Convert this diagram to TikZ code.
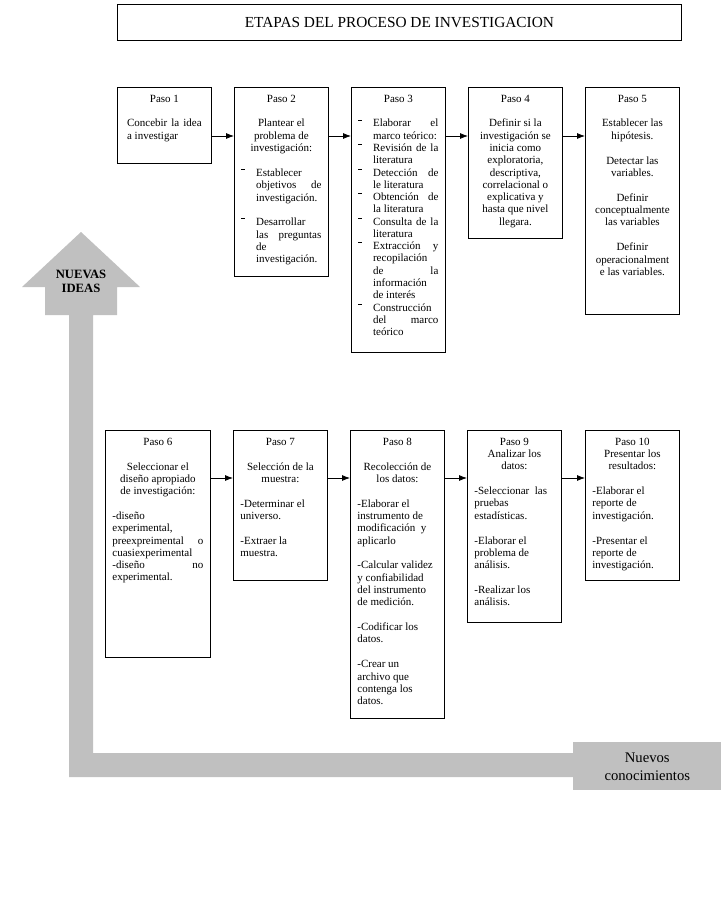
\documentclass[tikz,border=0pt]{standalone}
\usepackage{fontspec}
\setmainfont{Liberation Serif}
\usetikzlibrary{arrows.meta}

\definecolor{flecha}{HTML}{C0C0C0}
\newcommand{\gap}{\par\vspace{9.5pt}}
\newcommand{\cen}[1]{{\centering #1\par}}
\newcommand{\itm}[1]{\par\noindent\hangindent=11pt\hangafter=1\makebox[11pt][l]{\rule[5pt]{3pt}{0.6pt}}#1\par}
\hyphenpenalty=10000 \tolerance=9999 \hbadness=10000

\begin{document}
\begin{tikzpicture}[x=0.75pt,y=-0.75pt,
    paso/.style={draw, line width=0.6pt, anchor=north west, text width=60pt, inner xsep=5.25pt, inner ysep=5pt,
      text height=6pt, align=justify, font=\fontsize{8.25}{9.2}\selectfont},
    arr/.style={-{Latex[length=6pt,width=4.5pt]}, line width=0.6pt}]

    \fill[white] (0,0) rectangle (721,917);
    \useasboundingbox (0,0) rectangle (721,917);

    \node[draw, line width=0.6pt, anchor=north west, minimum width=423pt, minimum height=27pt,
      font=\fontsize{11.5}{13}\selectfont] (titulo) at (117,4) {ETAPAS DEL PROCESO DE INVESTIGACION};

    % flecha gris
    \fill[flecha] (81,232) -- (140,287) -- (117,287) -- (117,315) -- (93,315) -- (93,753) -- (573,753)
      -- (573,777) -- (69,777) -- (69,315) -- (45,315) -- (45,287) -- (22,287) -- cycle;
    \node[font=\bfseries\fontsize{9.5}{10.5}\selectfont, align=center] (ideas) at (81,281) {NUEVAS\\IDEAS};
    \node[fill=flecha, anchor=north west, minimum width=111pt, minimum height=36pt, align=center,
      font=\fontsize{11}{13.5}\selectfont] (nuevos) at (573,742) {Nuevos\\conocimientos};

    \node[paso, text width=56pt, inner xsep=7.25pt, text depth=41pt] (p1) at (117,87)
      {\cen{Paso 1}\gap Concebir la idea\linebreak a investigar};
    \node[paso, text depth=125.75pt] (p2) at (234,87)
      {\cen{Paso 2}\gap\cen{Plantear el\\problema de\\investigación:}\gap
       \itm{Establecer\newline objetivos de\linebreak investigación.}\gap
       \itm{Desarrollar\newline las preguntas\linebreak de\newline investigación.}};
    \node[paso, text depth=182.75pt] (p3) at (351,87)
      {\cen{Paso 3}\gap
       \itm{Elaborar el\linebreak marco teórico:}
       \itm{Revisión de la\linebreak literatura}
       \itm{Detección de\linebreak le literatura}
       \itm{Obtención de\linebreak la literatura}
       \itm{Consulta de la\linebreak literatura}
       \itm{Extracción y\linebreak recopilación\newline de la\linebreak información\newline de interés}
       \itm{Construcción\newline del marco\linebreak teórico}};
    \node[paso, text depth=97.25pt] (p4) at (468,87)
      {\cen{Paso 4}\gap\cen{Definir si la\\investigación se\\inicia como\\exploratoria,\\descriptiva,\\correlacional o\\explicativa y\\hasta que nivel\\llegara.}};
    \node[paso, text depth=154.25pt] (p5) at (585,87)
      {\cen{Paso 5}\gap\cen{Establecer las\\hipótesis.}\gap\cen{Detectar las\\variables.}\gap
       \cen{Definir\\conceptualmente\\las variables}\gap\cen{Definir\\operacionalment\\e las variables.}};

    \node[paso, text width=68.25pt, text depth=154.25pt] (p6) at (105,430)
      {\cen{Paso 6}\gap\cen{Seleccionar el\\diseño apropiado\\de investigación:}\gap
       -diseño\newline experimental,\newline preexpreimental o\linebreak cuasiexperimental\newline -diseño no\linebreak experimental.};
    \node[paso, text depth=96.5pt] (p7) at (233,430)
      {\cen{Paso 7}\gap\cen{Selección de la\\muestra:}\gap -Determinar el\newline universo.\gap -Extraer la\newline muestra.};
    \node[paso, text depth=200pt] (p8) at (350,430)
      {\cen{Paso 8}\gap\cen{Recolección de\\los datos:}\gap
       -Elaborar el\newline instrumento de\newline modificación\ \ y\newline aplicarlo\gap
       -Calcular validez\newline y confiabilidad\newline del instrumento\newline de medición.\gap
       -Codificar los\newline datos.\gap
       -Crear un\newline archivo que\newline contenga los\newline datos.};
    \node[paso, text depth=128pt] (p9) at (467,430)
      {\cen{Paso 9\\Analizar los\\datos:}\gap -Seleccionar\ \ las\newline pruebas\newline estadísticas.\gap
       -Elaborar el\newline problema de\newline análisis.\gap -Realizar los\newline análisis.};
    \node[paso, text depth=96.5pt] (p10) at (585,430)
      {\cen{Paso 10\\Presentar los\\resultados:}\gap -Elaborar el\newline reporte de\newline investigación.\gap
       -Presentar el\newline reporte de\newline investigación.};

    \coordinate (r1) at (0,136);
    \coordinate (r2) at (0,478);
    \draw[arr] (p1.east |- r1) -- (p2.west |- r1);
    \draw[arr] (p2.east |- r1) -- (p3.west |- r1);
    \draw[arr] (p3.east |- r1) -- (p4.west |- r1);
    \draw[arr] (p4.east |- r1) -- (p5.west |- r1);
    \draw[arr] (p6.east |- r2) -- (p7.west |- r2);
    \draw[arr] (p7.east |- r2) -- (p8.west |- r2);
    \draw[arr] (p8.east |- r2) -- (p9.west |- r2);
    \draw[arr] (p9.east |- r2) -- (p10.west |- r2);
    %
\end{tikzpicture}
\end{document}
